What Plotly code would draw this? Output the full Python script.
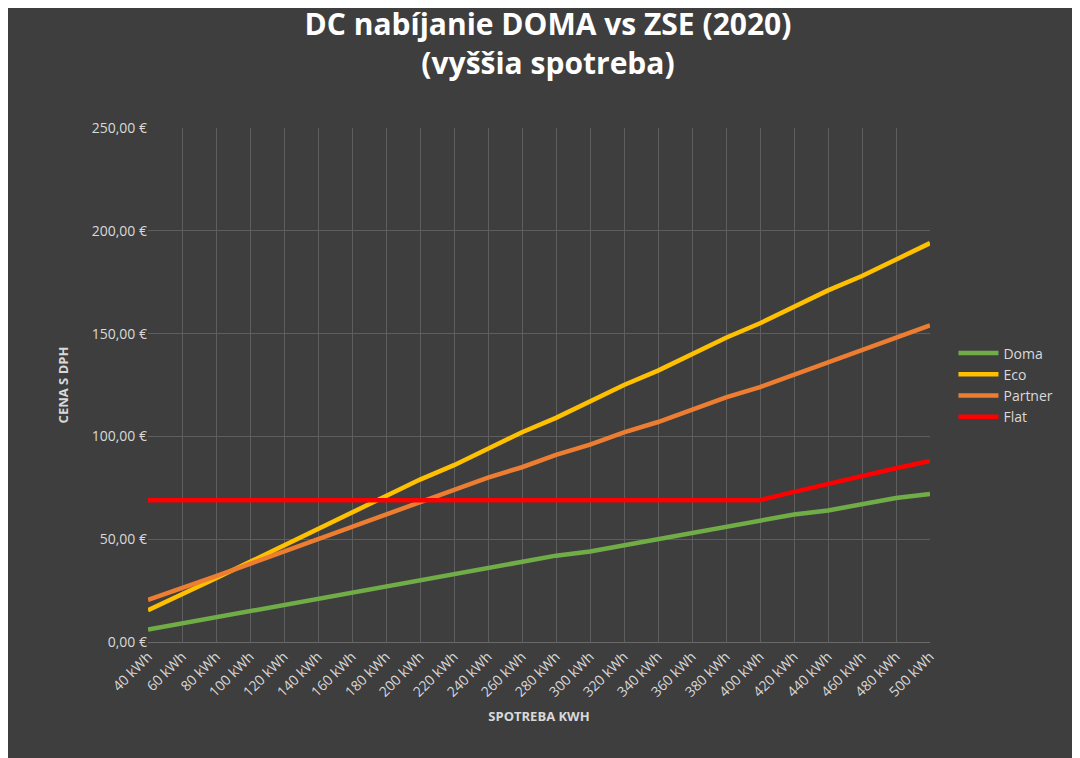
import plotly.graph_objects as go

categories = [f"{k} kWh" for k in range(40, 501, 20)]
doma = [6, 9, 12, 15, 18, 21, 24, 27, 30, 33, 36, 39, 42, 44, 47, 50, 53, 56, 59, 62, 64, 67, 70, 72]
eco = [15.5, 23, 31, 39, 47, 55, 63, 71, 79, 86, 94, 102, 109, 117, 125, 132, 140, 148, 155, 163, 171, 178, 186, 194]
partner = [20.5, 26, 32, 38, 44, 50, 56, 62, 68, 74, 80, 85, 91, 96, 102, 107, 113, 119, 124, 130, 136, 142, 148, 154]
flat = [69] * 19 + [73, 77, 80.5, 84.5, 88]

series = [("Doma", doma, "#70ad47"), ("Eco", eco, "#ffc000"),
          ("Partner", partner, "#ed7d31"), ("Flat", flat, "#ff0000")]

fig = go.Figure()
for name, vals, color in series:
    fig.add_trace(go.Scatter(x=categories, y=vals, mode="lines", name=name,
                             line=dict(color=color, width=4.5)))

font = "Open Sans"
fig.update_layout(
    width=1080, height=758,
    paper_bgcolor="#3e3e3e", plot_bgcolor="rgba(0,0,0,0)",
    separators=", ",
    title=dict(text="<b>DC nabíjanie DOMA vs ZSE (2020)<br>(vyššia spotreba)</b>",
               x=0.5, xanchor="center", y=0.965, yanchor="top",
               font=dict(family=font, size=30, color="white")),
    margin=dict(l=140, r=158, t=120, b=124),
    legend=dict(x=1.03, y=0.5, yanchor="middle", bgcolor="rgba(0,0,0,0)",
                font=dict(family=font, size=14, color="#d9d9d9"), tracegroupgap=14,
                itemwidth=40),
    xaxis=dict(tickangle=-45, showgrid=True, gridcolor="#5e5e5e", showline=True,
               linecolor="#6a6a6a", tickfont=dict(family=font, size=14, color="#d9d9d9"),
               title=dict(text="<b>SPOTREBA KWH</b>", font=dict(family=font, size=13, color="#d9d9d9"), standoff=12)),
    yaxis=dict(range=[0, 250], dtick=50, tickformat=".2f", ticksuffix=" €",
               gridcolor="#5e5e5e", zeroline=False,
               tickfont=dict(family=font, size=14, color="#d9d9d9"),
               title=dict(text="<b>CENA S DPH</b>", font=dict(family=font, size=13, color="#d9d9d9"), standoff=20)),
)
fig.write_html("out.html")
